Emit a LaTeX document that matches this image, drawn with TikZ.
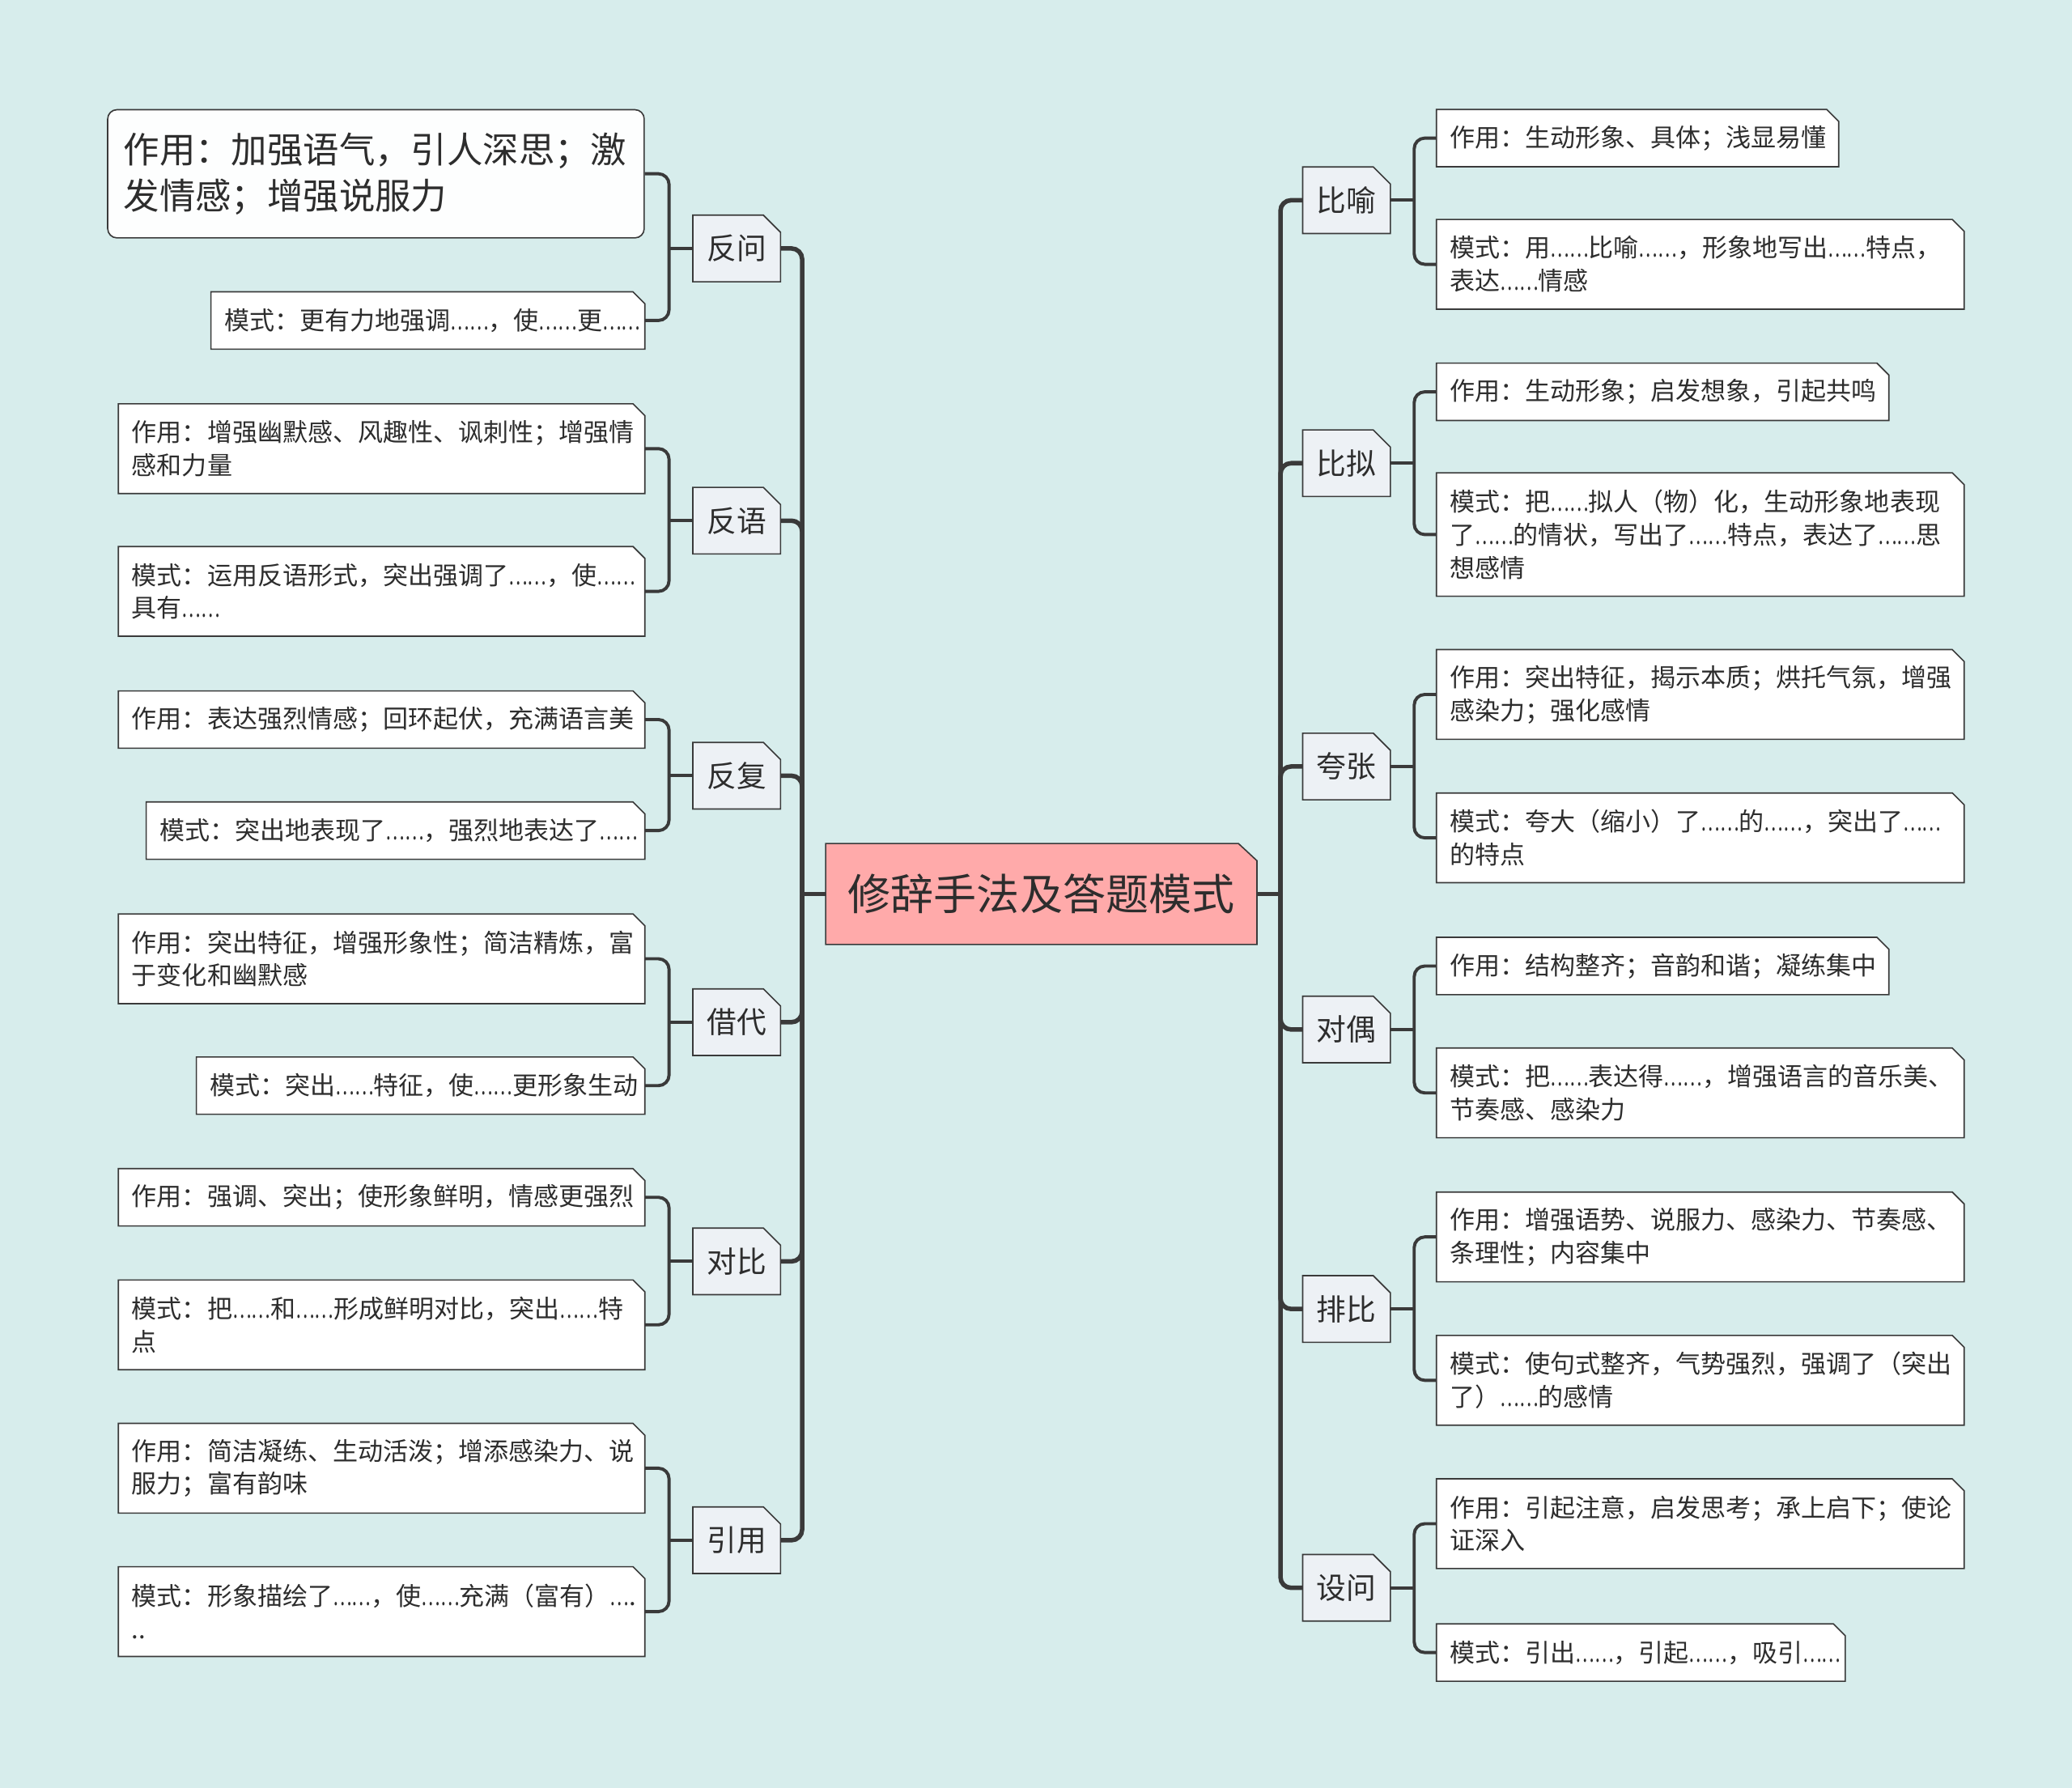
\documentclass[tikz,border=0pt]{standalone}
\usepackage{fontspec}
\setmainfont{Noto Sans CJK SC}
\usepackage{xcolor}
\usepackage{graphicx}
\usetikzlibrary{positioning, backgrounds, calc}
\definecolor{cBg}{RGB}{215,237,236}
\definecolor{cRoot}{RGB}{255,170,170}
\definecolor{cTopic}{RGB}{237,241,245}
\definecolor{cLine}{RGB}{58,58,58}
\definecolor{cText}{RGB}{45,45,45}
\newcommand{\ldd}{\scalebox{0.72}[1]{……}}
\tikzset{
  leafbox/.style={text width=#1, align=left, inner xsep=10pt, inner ysep=0pt,
    font=\fontsize{19}{25}\selectfont, text=cText},
  h1/.style={minimum height=43pt},
  h2/.style={minimum height=67.5pt},
  h3/.style={minimum height=93pt},
  topicbox/.style={minimum width=66pt, minimum height=50pt, inner sep=0pt,
    font=\fontsize{22.5}{26}\selectfont, text=cText},
  rootbox/.style={minimum width=326pt, minimum height=76pt, inner sep=0pt,
    font=\fontsize{32.5}{36}\selectfont, text=cText},
  boxline/.style={draw=cLine, line width=1pt},
  trunk/.style={draw=cLine, line width=3.4pt, rounded corners=8pt},
  link/.style={draw=cLine, line width=2.4pt, rounded corners=8pt},
}

\begin{document}
\begin{tikzpicture}[x=1pt, y=-1pt]
\useasboundingbox (0,0) rectangle (1568,1353);
\begin{scope}[on background layer]
  \fill[cBg] (0,0) rectangle (1568,1353);
\end{scope}

% centre
\node[rootbox] (root) at (788,676.5) {修辞手法及答题模式};

% topics
\foreach \n/\y/\t in {fanwen/188/反问, fanyu/394/反语, fanfu/587/反复,
    jiedai/773.5/借代, duibi/954.5/对比, yinyong/1165.5/引用}
  \node[topicbox] (\n) at (557.5,\y) {\t};
\foreach \n/\y/\t in {biyu/151.5/比喻, bini/350.5/比拟, kuazhang/580/夸张,
    duiou/779/对偶, paibi/990.5/排比, shewen/1201.5/设问}
  \node[topicbox] (\n) at (1019,\y) {\t};

% left leaves
\node[anchor=east, draw=cLine, line width=1pt, fill=white!96!cBg, rounded corners=7pt,
  text width=382pt, minimum height=97pt, inner xsep=12pt, inner ysep=0pt, align=left,
  font=\fontsize{27.2}{35}\selectfont, text=cText] (fanwen-a) at (488,131.5)
  {作用：加强语气，引人深思；激\\发情感；增强说服力};
\node[leafbox=308pt, h1, anchor=east] (fanwen-b) at (488,242.5) {模式：更有力地强调\ldd{}，使\ldd{}更\ldd{}};
\node[leafbox=378pt, h2, anchor=east] (fanyu-a) at (488,339.5) {作用：增强幽默感、风趣性、讽刺性；增强情\\感和力量};
\node[leafbox=378pt, h2, anchor=east] (fanyu-b) at (488,447.5) {模式：运用反语形式，突出强调了\ldd{}，使\ldd{}\\具有\ldd{}};
\node[leafbox=378pt, h1, anchor=east] (fanfu-a) at (488,544.5) {作用：表达强烈情感；回环起伏，充满语言美};
\node[leafbox=357pt, h1, anchor=east] (fanfu-b) at (488,628.5) {模式：突出地表现了\ldd{}，强烈地表达了\ldd{}};
\node[leafbox=378pt, h2, anchor=east] (jiedai-a) at (488,725.5) {作用：突出特征，增强形象性；简洁精炼，富\\于变化和幽默感};
\node[leafbox=319pt, h1, anchor=east] (jiedai-b) at (488,821.5) {模式：突出\ldd{}特征，使\ldd{}更形象生动};
\node[leafbox=378pt, h1, anchor=east] (duibi-a) at (488,906) {作用：强调、突出；使形象鲜明，情感更强烈};
\node[leafbox=378pt, h2, anchor=east] (duibi-b) at (488,1002.5) {模式：把\ldd{}和\ldd{}形成鲜明对比，突出\ldd{}特\\点};
\node[leafbox=378pt, h2, anchor=east] (yinyong-a) at (488,1111) {作用：简洁凝练、生动活泼；增添感染力、说\\服力；富有韵味};
\node[leafbox=378pt, h2, anchor=east] (yinyong-b) at (488,1219.5) {模式：形象描绘了\ldd{}，使\ldd{}充满（富有）\scalebox{0.72}[1]{…}.\\..};

% right leaves
\node[leafbox=284pt, h1, anchor=west] (biyu-a) at (1087,104.5) {作用：生动形象、具体；浅显易懂};
\node[leafbox=379pt, h2, anchor=west] (biyu-b) at (1087,200) {模式：用\ldd{}比喻\ldd{}，形象地写出\ldd{}特点，\\表达\ldd{}情感};
\node[leafbox=322pt, h1, anchor=west] (bini-a) at (1087,296.5) {作用：生动形象；启发想象，引起共鸣};
\node[leafbox=379pt, h3, anchor=west] (bini-b) at (1087,404.5) {模式：把\ldd{}拟人（物）化，生动形象地表现\\了\ldd{}的情状，写出了\ldd{}特点，表达了\ldd{}思\\想感情};
\node[leafbox=379pt, h2, anchor=west] (kuazhang-a) at (1087,525.5) {作用：突出特征，揭示本质；烘托气氛，增强\\感染力；强化感情};
\node[leafbox=379pt, h2, anchor=west] (kuazhang-b) at (1087,634) {模式：夸大（缩小）了\ldd{}的\ldd{}，突出了\ldd{}\\的特点};
\node[leafbox=322pt, h1, anchor=west] (duiou-a) at (1087,731) {作用：结构整齐；音韵和谐；凝练集中};
\node[leafbox=379pt, h2, anchor=west] (duiou-b) at (1087,827) {模式：把\ldd{}表达得\ldd{}，增强语言的音乐美、\\节奏感、感染力};
\node[leafbox=379pt, h2, anchor=west] (paibi-a) at (1087,936) {作用：增强语势、说服力、感染力、节奏感、\\条理性；内容集中};
\node[leafbox=379pt, h2, anchor=west] (paibi-b) at (1087,1044.5) {模式：使句式整齐，气势强烈，强调了（突出\\了）\ldd{}的感情};
\node[leafbox=379pt, h2, anchor=west] (shewen-a) at (1087,1153) {作用：引起注意，启发思考；承上启下；使论\\证深入};
\node[leafbox=289pt, h1, anchor=west] (shewen-b) at (1087,1250.5) {模式：引出\ldd{}，引起\ldd{}，吸引\ldd{}};

% connectors
\coordinate (lhub) at (607,676.5);
\coordinate (rhub) at (969,676.5);
\draw[trunk] (root.west) -- (lhub);
\draw[trunk] (root.east) -- (rhub);
\foreach \n in {fanwen, fanyu, fanfu, jiedai, duibi, yinyong} {
  \draw[trunk] (lhub) |- (\n.east);
  \draw[link] (\n.west) -- ++(-18,0) coordinate (\n-j);
  \draw[link] (\n-a.east) -| (\n-j) |- (\n-b.east);
}
\foreach \n in {biyu, bini, kuazhang, duiou, paibi, shewen} {
  \draw[trunk] (rhub) |- (\n.west);
  \draw[link] (\n.east) -- ++(18,0) coordinate (\n-j);
  \draw[link] (\n-a.west) -| (\n-j) |- (\n-b.west);
}

% box outlines with cut corner
\begin{scope}[on background layer]
  \foreach \n in {fanwen-b, fanyu-a, fanyu-b, fanfu-a, fanfu-b, jiedai-a, jiedai-b,
      duibi-a, duibi-b, yinyong-a, yinyong-b, biyu-a, biyu-b, bini-a, bini-b,
      kuazhang-a, kuazhang-b, duiou-a, duiou-b, paibi-a, paibi-b, shewen-a, shewen-b}
    \filldraw[boxline, fill=white] (\n.south west) -- (\n.north west)
      -- ([xshift=-9pt]\n.north east) -- ([yshift=-9pt]\n.north east)
      -- (\n.south east) -- cycle;
  \foreach \n in {fanwen, fanyu, fanfu, jiedai, duibi, yinyong,
      biyu, bini, kuazhang, duiou, paibi, shewen}
    \filldraw[boxline, fill=cTopic] (\n.south west) -- (\n.north west)
      -- ([xshift=-13pt]\n.north east) -- ([yshift=-13pt]\n.north east)
      -- (\n.south east) -- cycle;
  \filldraw[boxline, fill=cRoot] (root.south west) -- (root.north west)
    -- ([xshift=-14pt]root.north east) -- ([yshift=-13pt]root.north east)
    -- (root.south east) -- cycle;
\end{scope}
\end{tikzpicture}
\end{document}
